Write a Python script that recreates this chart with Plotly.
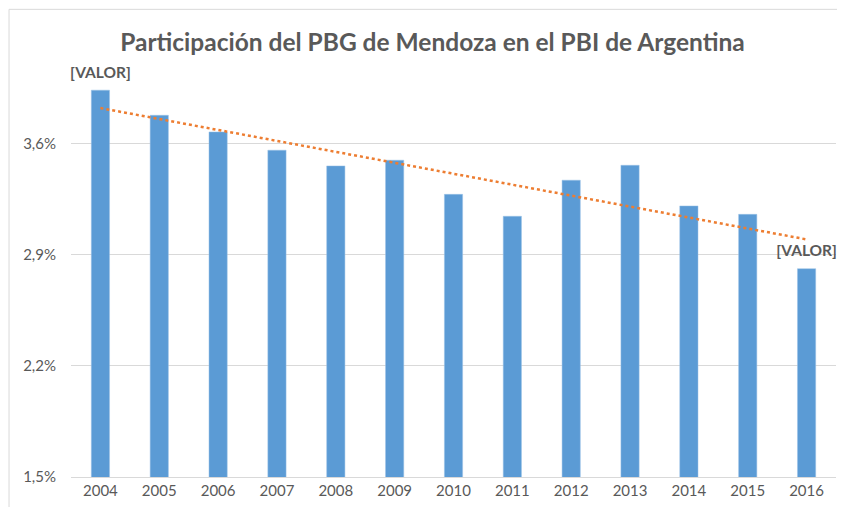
import numpy as np
import plotly.graph_objects as go

years = ["2004", "2005", "2006", "2007", "2008", "2009", "2010",
         "2011", "2012", "2013", "2014", "2015", "2016"]
values = [3.936, 3.778, 3.673, 3.558, 3.459, 3.495, 3.280,
          3.142, 3.369, 3.463, 3.207, 3.154, 2.812]
label_idx = [0, 12]
label_text = "[VALOR]"
tick_vals = [1.5, 2.2, 2.9, 3.6]
tick_text = ["1,5%", "2,2%", "2,9%", "3,6%"]
title = "Participación del PBG de Mendoza en el PBI de Argentina"

idx = np.arange(len(values))
slope, intercept = np.polyfit(idx, values, 1)
trend = [float(v) for v in (slope * idx + intercept)]

FONT = "Lato, 'Open Sans', sans-serif"
GRAY = "#595959"

fig = go.Figure()
fig.add_trace(go.Bar(
    x=years, y=values,
    marker=dict(color="#5b9bd5", line=dict(color="#9dc3e6", width=0.5)),
    showlegend=False,
))
fig.add_trace(go.Scatter(
    x=years, y=trend, mode="lines",
    line=dict(color="#ed7d31", width=2.5, dash="dot"),
    showlegend=False, cliponaxis=False,
))
fig.add_trace(go.Scatter(
    x=[years[i] for i in label_idx], y=[values[i] for i in label_idx],
    mode="markers+text", text=[label_text] * len(label_idx),
    textposition="top center",
    marker=dict(size=12, opacity=0),
    textfont=dict(family=FONT, size=15.5, color=GRAY, weight="bold"),
    showlegend=False, cliponaxis=False,
))

fig.update_layout(
    width=829, height=499,
    margin=dict(l=63, r=1, t=72, b=30),
    paper_bgcolor="white", plot_bgcolor="white",
    bargap=0.69,
    title=dict(text=title, x=0.512, xanchor="center", y=0.932, yanchor="middle",
               font=dict(family=FONT, size=24.5, color=GRAY, weight="bold")),
    xaxis=dict(type="category", range=[-0.5, len(years) - 0.5],
               showgrid=False, showline=True, linecolor="#d9d9d9", linewidth=1,
               ticks="", tickfont=dict(family=FONT, size=15, color=GRAY)),
    yaxis=dict(range=[1.5, 4.0], tickvals=tick_vals, ticktext=tick_text,
               showgrid=True, gridcolor="#d9d9d9", gridwidth=1,
               zeroline=False, showline=False, ticks="", ticklabelstandoff=14,
               tickfont=dict(family=FONT, size=15, color=GRAY)),
    shapes=[dict(type="rect", xref="paper", yref="paper",
                 x0=-0.081, x1=1.3, y0=-0.3, y1=1.178,
                 line=dict(color="#d9d9d9", width=1), layer="below")],
)

fig.write_html("out.html")
